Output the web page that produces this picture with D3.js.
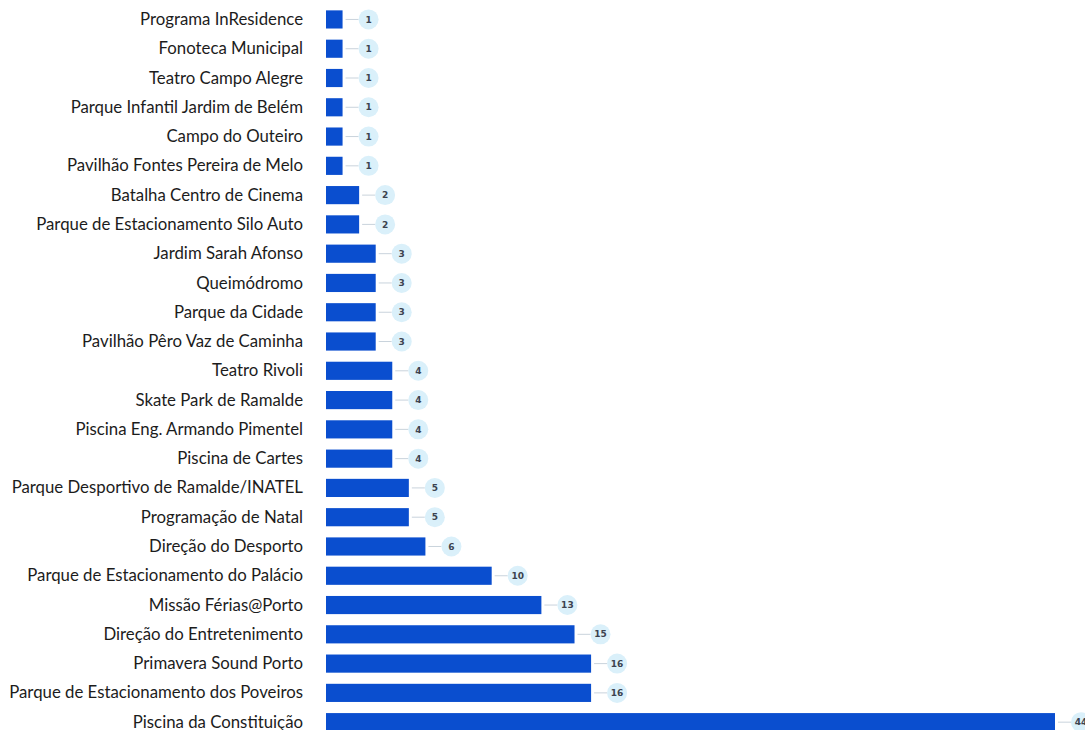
<!DOCTYPE html>
<html>
<head>
<meta charset="utf-8">
<script src="https://cdn.jsdelivr.net/npm/d3@7"></script>
<style>
  html, body { margin: 0; padding: 0; background: #fff; }
</style>
</head>
<body>
<div id="chart"></div>
<script>
const places = [
    "Programa InResidence",
    "Fonoteca Municipal",
    "Teatro Campo Alegre",
    "Parque Infantil Jardim de Belém",
    "Campo do Outeiro",
    "Pavilhão Fontes Pereira de Melo",
    "Batalha Centro de Cinema",
    "Parque de Estacionamento Silo Auto",
    "Jardim Sarah Afonso",
    "Queimódromo",
    "Parque da Cidade",
    "Pavilhão Pêro Vaz de Caminha",
    "Teatro Rivoli",
    "Skate Park de Ramalde",
    "Piscina Eng. Armando Pimentel",
    "Piscina de Cartes",
    "Parque Desportivo de Ramalde/INATEL",
    "Programação de Natal",
    "Direção do Desporto",
    "Parque de Estacionamento do Palácio",
    "Missão Férias@Porto",
    "Direção do Entretenimento",
    "Primavera Sound Porto",
    "Parque de Estacionamento dos Poveiros",
    "Piscina da Constituição"
];
const counts = [1, 1, 1, 1, 1, 1, 2, 2, 3, 3, 3, 3, 4, 4, 4, 4, 5, 5, 6, 10, 13, 15, 16, 16, 44];

const width = 1085,
    height = 730,
    left = 326,
    barColor = "#0a4ecf",
    bubbleColor = "#daf0fa"

const rows = places.map((p, i) => ({ name: p, value: counts[i] }));

const x = d3.scaleLinear()
    .domain([0, 44])
    .range([left, left + 729]);

const y = d3.scaleBand()
    .domain(places)
    .range([4.8, 4.8 + 29.28 * places.length])
    .paddingInner(0.38)
    .paddingOuter(0.19);

const svg = d3.select("#chart")
    .append("svg")
    .attr("width", width)
    .attr("height", height)
    .attr("viewBox", [0, 0, width, height]);

// category labels
svg.append("g")
    .attr("font-family", "Lato, 'Open Sans', sans-serif")
    .attr("font-size", 16.8)
    .attr("fill", "#1c1c1c")
    .attr("text-anchor", "end")
    .selectAll("text")
    .data(rows)
    .join("text")
    .attr("x", 303)
    .attr("y", d => y(d.name) + y.bandwidth() / 2)
    .attr("dy", "0.33em")
    .text(d => d.name);

// bars
svg.append("g")
    .attr("fill", barColor)
    .selectAll("rect")
    .data(rows)
    .join("rect")
    .attr("x", x(0))
    .attr("y", d => y(d.name))
    .attr("width", d => x(d.value) - x(0))
    .attr("height", y.bandwidth());

// value bubbles with connector
const tag = svg.append("g")
    .selectAll("g")
    .data(rows)
    .join("g")
    .attr("transform", d => `translate(${x(d.value)},${y(d.name) + y.bandwidth() / 2})`);

tag.append("line")
    .attr("x1", 3)
    .attr("x2", 16)
    .attr("stroke", "#c9d3dc")
    .attr("stroke-width", 1);

tag.append("circle")
    .attr("cx", 26)
    .attr("r", 10)
    .attr("fill", bubbleColor);

tag.append("text")
    .attr("x", 26)
    .attr("dy", "0.35em")
    .attr("text-anchor", "middle")
    .attr("font-family", "'DejaVu Sans', sans-serif")
    .attr("font-size", 9)
    .attr("font-weight", "bold")
    .attr("fill", "#3c4350")
    .text(d => d.value);
</script>
</body>
</html>
